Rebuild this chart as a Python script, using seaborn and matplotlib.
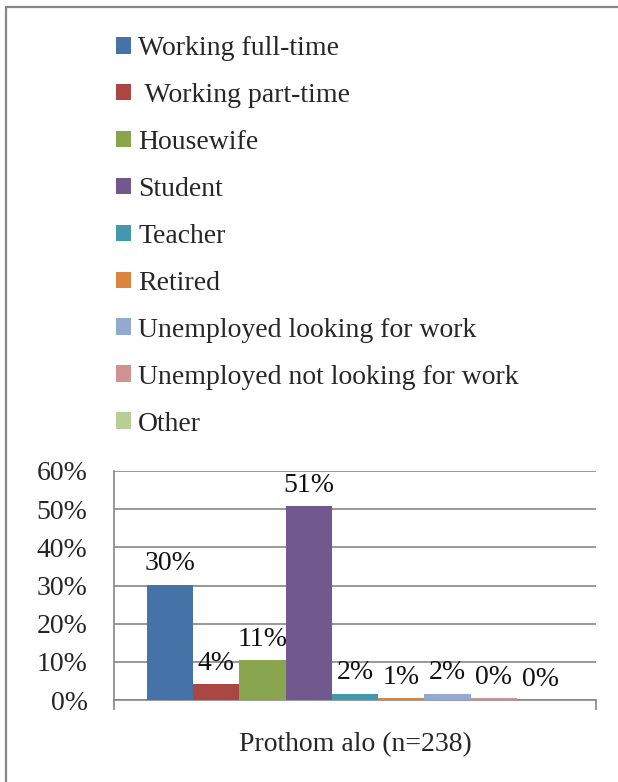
import seaborn as sns
import matplotlib.pyplot as plt
import pandas as pd
from matplotlib.patches import Patch
from matplotlib.lines import Line2D
from matplotlib.ticker import PercentFormatter, FixedLocator

# data
group = "Prothom alo (n=238)"
statuses = ["Working full-time", " Working part-time", "Housewife", "Student", "Teacher",
            "Retired", "Unemployed looking for work", "Unemployed not looking for work", "Other"]
shares = [0.302, 0.042, 0.105, 0.508, 0.017, 0.004, 0.017, 0.004, 0.0]
bar_text = ["30%", "4%", "11%", "51%", "2%", "1%", "2%", "0%", "0%"]
colors = ["#4572A7", "#AA4643", "#89A54E", "#71588F", "#4198AF",
          "#DB843D", "#93A9CF", "#D19392", "#B9CD96"]
grey = "#868686"
fs = 20

df = pd.DataFrame({"group": group, "status": statuses, "share": shares})

sns.set_style("white")
plt.rcParams["font.family"] = ["Liberation Serif", "DejaVu Serif"]
plt.rcParams["font.size"] = fs

fig = plt.figure(figsize=(6.18, 7.82), dpi=100)
ax = fig.add_axes([114 / 618, 1 - 700 / 782, (596 - 114) / 618, (700 - 471) / 782])

sns.barplot(data=df, x="group", y="share", hue="status", hue_order=statuses,
            palette=colors, saturation=1, width=0.864, legend=False, ax=ax,
            linewidth=0, zorder=3)

for cont, txt in zip(ax.containers, bar_text):
    ax.bar_label(cont, labels=[txt], padding=6, fontsize=fs, color="#111111")

ax.set_xlim(-0.5, 0.5)
ax.set_ylim(0, 0.6)
ax.set_yticks([0, 0.1, 0.2, 0.3, 0.4, 0.5, 0.6])
ax.yaxis.set_major_formatter(PercentFormatter(1.0, decimals=0))
ax.yaxis.grid(True, color=grey, linewidth=1.2, zorder=0)
ax.set_axisbelow(True)
ax.set_xlabel("")
ax.set_ylabel("")

ax.xaxis.set_minor_locator(FixedLocator([-0.5, 0.5]))
ax.tick_params(axis="x", which="major", length=0, pad=23, labelsize=fs)
ax.tick_params(axis="x", which="minor", length=7, width=1.2, color=grey, direction="out")
ax.tick_params(axis="y", length=7, width=1.2, color=grey, direction="out", pad=12, labelsize=fs)
ax.tick_params(bottom=True, which="both")

for side in ["top", "right"]:
    ax.spines[side].set_visible(False)
for side in ["left", "bottom"]:
    ax.spines[side].set_color(grey)
    ax.spines[side].set_linewidth(1.2)

handles = [Patch(facecolor=c, edgecolor="none") for c in colors]
fig.legend(handles, statuses, loc="upper left", bbox_to_anchor=(116 / 618, 1 - 36 / 782),
           frameon=False, handlelength=0.55, handleheight=0.55, handletextpad=0.25,
           labelspacing=0.79, borderpad=0, borderaxespad=0, fontsize=fs)

# chart border (only top and left edges show in the crop)
fig.add_artist(Line2D([6 / 618, 1], [1 - 7 / 782, 1 - 7 / 782], color=grey, linewidth=1.6))
fig.add_artist(Line2D([6 / 618, 6 / 618], [0, 1 - 7 / 782], color=grey, linewidth=1.6))

fig.savefig("out.png", dpi=100)
